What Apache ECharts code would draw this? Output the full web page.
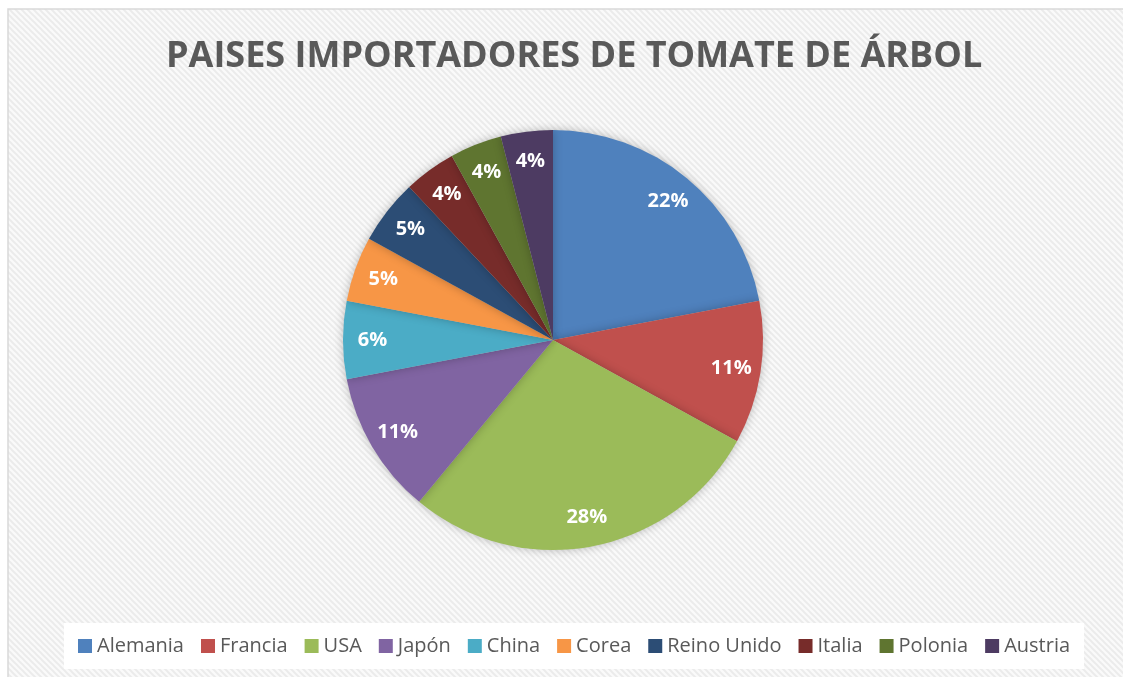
<!DOCTYPE html>
<html>
<head>
<meta charset="utf-8">
<script src="https://cdn.jsdelivr.net/npm/echarts@6/dist/echarts.min.js"></script>
<style>
html,body{margin:0;padding:0;background:#fff;}
#c{width:1123px;height:677px;}
</style>
</head>
<body>
<div id="c"></div>
<script>
const titleText = 'PAISES IMPORTADORES DE TOMATE DE ÁRBOL';
const categories = ['Alemania','Francia','USA','Japón','China','Corea','Reino Unido','Italia','Polonia','Austria'];
const values = [22, 11, 28, 11, 6, 5, 5, 4, 4, 4];
const colors = ['#4F81BD','#C0504D','#9BBB59','#8064A2','#4BACC6','#F79646','#2C4D75','#772C2A','#5F7530','#4D3B62'];

// diagonal hatch pattern
const pc = document.createElement('canvas');
pc.width = 6; pc.height = 6;
const ctx = pc.getContext('2d');
ctx.fillStyle = '#fafafa';
ctx.fillRect(0,0,6,6);
ctx.strokeStyle = '#ebebeb';
ctx.lineWidth = 2;
ctx.beginPath();
ctx.moveTo(-3,-3); ctx.lineTo(9,9);
ctx.moveTo(-3,3); ctx.lineTo(3,9);
ctx.moveTo(3,-3); ctx.lineTo(9,3);
ctx.stroke();

const chart = echarts.init(document.getElementById('c'), null, {renderer:'canvas'});
const data = categories.map((n,i)=>({name:n, value:values[i]}));
const fontFam = '"Open Sans", "Noto Sans", sans-serif';
chart.setOption({
  animation:false,
  color: colors,
  graphic: [
    {type:'rect', z:-10, silent:true, shape:{x:8, y:9, width:1130, height:680},
     style:{fill:{image:pc, repeat:'repeat'}, stroke:'#d9d9d9', lineWidth:1.5}},
  ],
  title: {
    text: titleText, left:161, top:34,
    textStyle:{fontFamily:fontFam, fontWeight:'bold', fontSize:36, color:'#595959'}
  },
  legend: {
    bottom: 8, left:64,
    backgroundColor:'#ffffff',
    padding:[13,14,13,14],
    itemWidth:14, itemHeight:14, itemGap:17,
    icon:'rect',
    textStyle:{fontFamily:fontFam, fontSize:20, color:'#595959'},
    data: categories
  },
  series: [
    {
      type:'pie', center:[553,340], radius:[0,210], startAngle:90, clockwise:true,
      label:{show:false}, labelLine:{show:false},
      itemStyle:{shadowBlur:10, shadowColor:'rgba(0,0,0,0.25)', borderWidth:0},
      data: data, silent:true
    },
    {
      type:'pie', center:[553,340], radius:[145,210], startAngle:90, clockwise:true,
      silent:true, legendHoverLink:false,
      itemStyle:{color:'rgba(0,0,0,0)'},
      label:{show:true, position:'inside', formatter:'{d}%', color:'#fff',
        fontFamily:fontFam, fontWeight:'bold', fontSize:20},
      labelLine:{show:false},
      data: data.map(d=>({name:d.name+'_l', value:d.value}))
    }
  ]
});
</script>
</body>
</html>
